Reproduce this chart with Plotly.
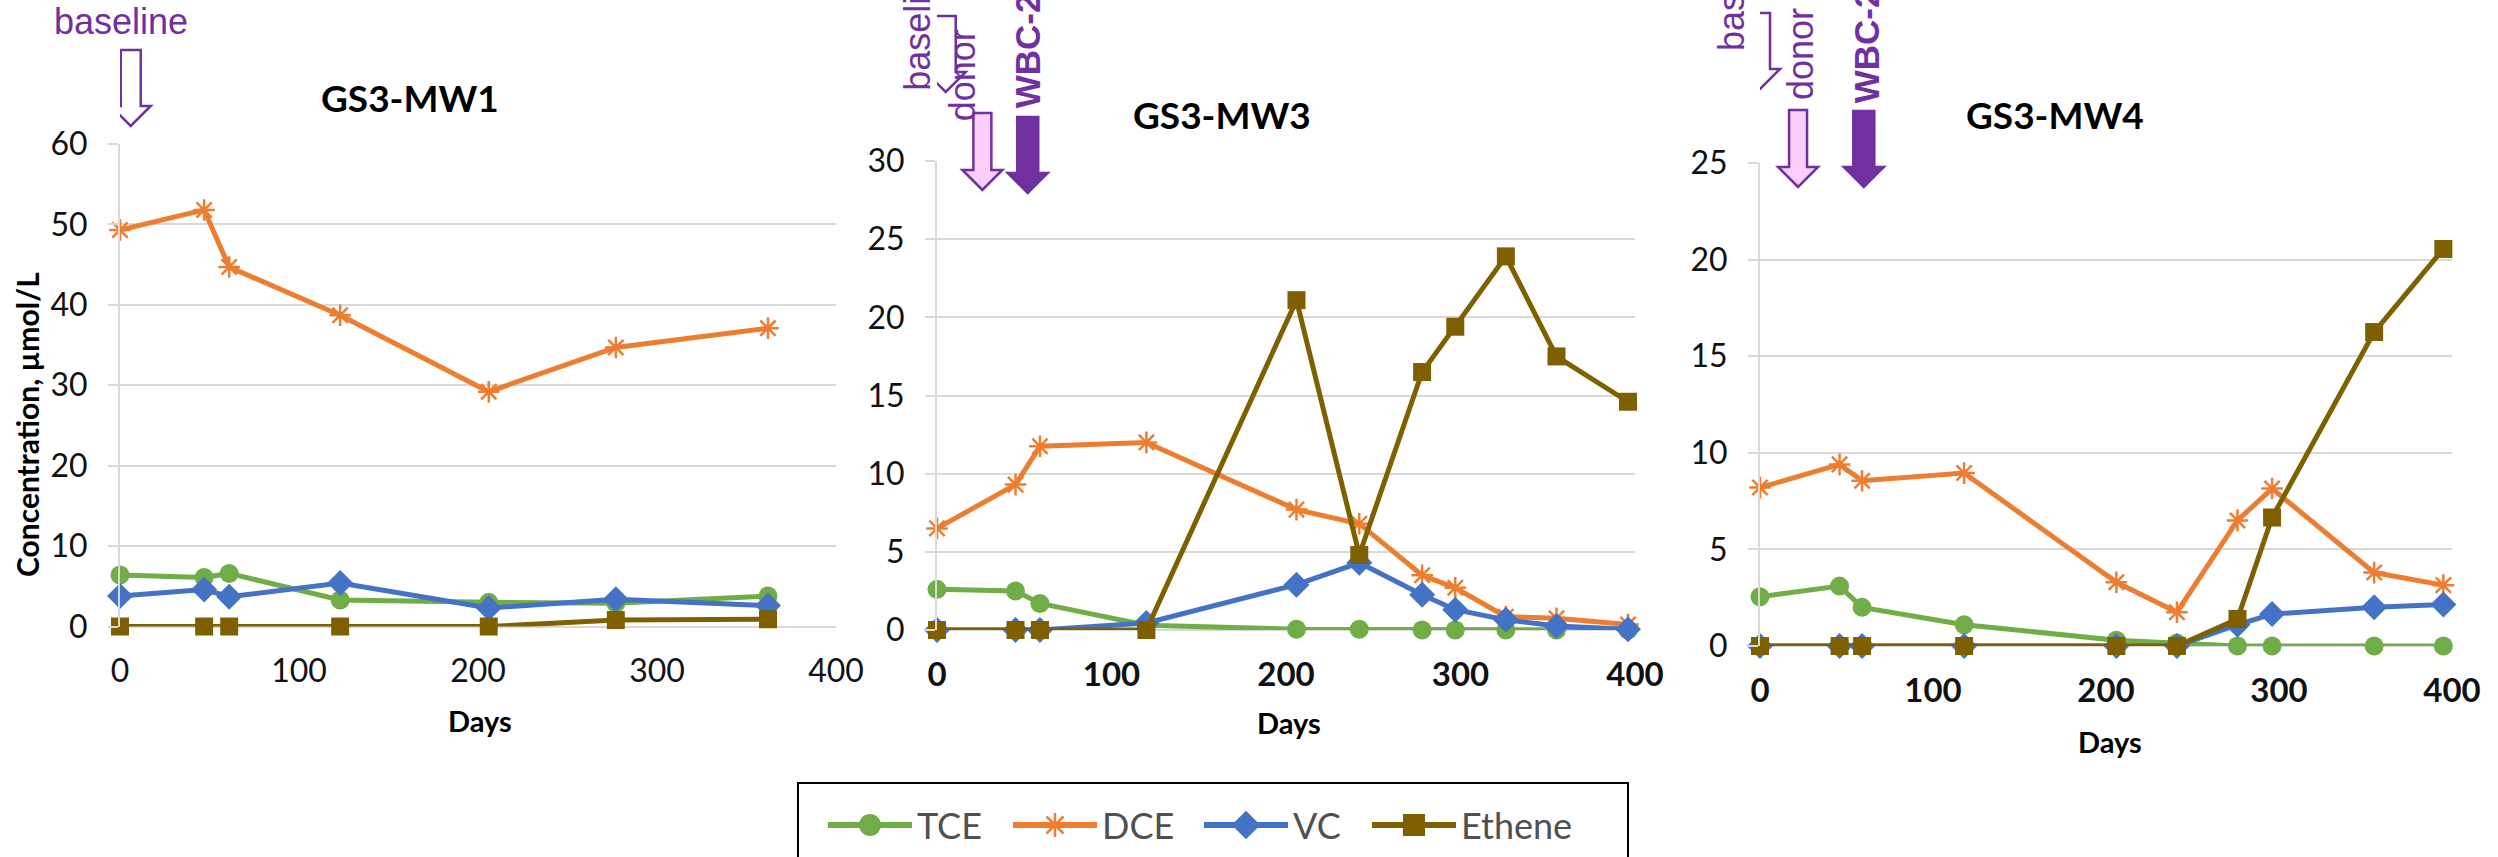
import plotly.graph_objects as go

FIG_W, FIG_H = 2498, 857

# ---- series definitions ----
series_names = ["TCE", "DCE", "VC", "Ethene"]
series_colors = ["#70AD47", "#ED7D31", "#4472C4", "#7F6000"]
series_symbols = ["circle", "asterisk-open", "diamond", "square"]
series_sizes = [19, 18, 20, 18]

# ---- GS3-MW1 (µmol/L) ----
mw1_days = [0, 47, 61, 123, 206, 277, 362]
mw1_tce = [6.4, 6.1, 6.6, 3.3, 3.0, 2.9, 3.8]
mw1_dce = [49.3, 51.8, 44.7, 38.7, 29.2, 34.7, 37.1]
mw1_vc = [3.8, 4.6, 3.7, 5.4, 2.3, 3.4, 2.6]
mw1_ethene = [0, 0, 0, 0, 0, 0.8, 0.9]

# ---- GS3-MW3 (µmol/L) ----
mw3_days = [0, 45, 59, 120, 206, 242, 278, 297, 326, 355, 396]
mw3_tce = [2.6, 2.5, 1.7, 0.3, 0.05, 0.05, 0, 0, 0, 0, 0]
mw3_dce = [6.5, 9.3, 11.75, 12.0, 7.7, 6.8, 3.5, 2.7, 0.85, 0.75, 0.35]
mw3_vc = [0, 0, 0, 0.45, 2.9, 4.3, 2.25, 1.3, 0.65, 0.25, 0.05]
mw3_ethene = [0, 0, 0, 0, 21.1, 4.8, 16.5, 19.4, 23.9, 17.5, 14.6]

# ---- GS3-MW4 (µmol/L) ----
mw4_days = [0, 46, 59, 118, 206, 241, 276, 296, 355, 395]
mw4_tce = [2.55, 3.1, 2.0, 1.1, 0.3, 0.15, 0, 0, 0, 0]
mw4_dce = [8.2, 9.4, 8.55, 8.95, 3.3, 1.75, 6.5, 8.15, 3.8, 3.15]
mw4_vc = [0, 0, 0, 0, 0, 0, 1.1, 1.65, 2.0, 2.15]
mw4_ethene = [0, 0, 0, 0, 0, 0, 1.4, 6.65, 16.25, 20.55]

# ---- axis ticks ----
x_ticks = [0, 100, 200, 300, 400]
mw1_y_ticks = [0, 10, 20, 30, 40, 50, 60]
mw3_y_ticks = [0, 5, 10, 15, 20, 25, 30]
mw4_y_ticks = [0, 5, 10, 15, 20, 25]

# ---- treatment events (day each arrow points at) ----
mw1_events = [("baseline", 6)]
mw3_events = [("baseline", 5), ("donor", 26), ("WBC-2", 52)]
mw4_events = [("baseline", 0), ("donor", 22), ("WBC-2", 60)]

PURPLE = "#7030A0"
PINK = "#FBCDFB"
GRID = "#D9D9D9"
TICK_FONT = "Lato"
NOTE_FONT = "Liberation Sans, Arial, sans-serif"


def px_x(p):
    return p / FIG_W


def px_y(p):
    return 1 - p / FIG_H


panels = [
    dict(title="GS3-MW1", days=mw1_days,
         values=[mw1_tce, mw1_dce, mw1_vc, mw1_ethene], yticks=mw1_y_ticks,
         box=(120, 836, 144, 626.5), title_xy=(410, 98), days_xy=(480, 720),
         bold_x=False, events=mw1_events),
    dict(title="GS3-MW3", days=mw3_days,
         values=[mw3_tce, mw3_dce, mw3_vc, mw3_ethene], yticks=mw3_y_ticks,
         box=(937, 1635, 161, 630), title_xy=(1222, 115), days_xy=(1289, 722),
         bold_x=True, events=mw3_events),
    dict(title="GS3-MW4", days=mw4_days,
         values=[mw4_tce, mw4_dce, mw4_vc, mw4_ethene], yticks=mw4_y_ticks,
         box=(1760, 2452, 163, 646), title_xy=(2055, 115), days_xy=(2110, 741),
         bold_x=True, events=mw4_events),
]

# arrow look per event type: (fill, shaft half width, head half width, head length, length)
arrow_styles = {
    "baseline": ("white", 10, 20, 20, 76),
    "donor": (PINK, 9, 20, 20, 77),
    "WBC-2": (PURPLE, 10.5, 20, 20, 76),
}
# arrow tip height (px from top) and label placement per panel
arrow_layout = [
    {"baseline": dict(tip=126, label="horizontal", dx=-10, label_y=22)},
    {"baseline": dict(tip=92, dx=-29, label_y=93),
     "donor": dict(tip=190, dx=-19, label_y=123),
     "WBC-2": dict(tip=193, dx=0, label_y=110)},
    {"baseline": dict(tip=89, dx=-29, label_y=53),
     "donor": dict(tip=187, dx=2, label_y=102),
     "WBC-2": dict(tip=187, dx=3, label_y=105)},
]

fig = go.Figure()
layout = dict(
    width=FIG_W, height=FIG_H, autosize=False,
    margin=dict(l=0, r=0, t=0, b=0, pad=0),
    paper_bgcolor="white", plot_bgcolor="white",
    showlegend=False,
)
shapes = []
annotations = []

for i, p in enumerate(panels):
    sfx = "" if i == 0 else str(i + 1)
    xref, yref = "x" + sfx, "y" + sfx
    left, right, top, bottom = p["box"]
    for name, color, sym, size, vals in zip(series_names, series_colors,
                                            series_symbols, series_sizes, p["values"]):
        fig.add_trace(go.Scatter(
            x=p["days"], y=vals, name=name, mode="lines+markers",
            line=dict(color=color, width=5),
            marker=dict(symbol=sym, size=size, color=color, opacity=1,
                        line=dict(color=color, width=2.5 if "open" in sym else 0)),
            xaxis=xref, yaxis=yref, cliponaxis=False, showlegend=False,
        ))
    layout["xaxis" + sfx] = dict(
        domain=[px_x(left), px_x(right)], range=[0, 400], tickvals=x_ticks,
        showgrid=False, zeroline=False, showline=False, ticks="",
        tickfont=dict(family=TICK_FONT, size=33 if p["bold_x"] else 32, color="#111111",
                      weight="bold" if p["bold_x"] else "normal"),
        ticklabelstandoff=22, anchor=yref, fixedrange=True, automargin=False,
    )
    layout["yaxis" + sfx] = dict(
        domain=[px_y(bottom), px_y(top)], range=[0, p["yticks"][-1]],
        tickvals=p["yticks"], showgrid=True, gridcolor=GRID, gridwidth=2,
        zeroline=True, zerolinecolor=GRID, zerolinewidth=2,
        showline=True, linecolor=GRID, linewidth=2,
        ticks="outside", ticklen=10, tickcolor=GRID, tickwidth=2,
        tickfont=dict(family=TICK_FONT, size=32, color="#111111"),
        ticklabelstandoff=14, anchor=xref, fixedrange=True, automargin=False,
    )
    tx, ty = p["title_xy"]
    annotations.append(dict(
        text="<b>%s</b>" % p["title"], x=px_x(tx), y=px_y(ty), xref="paper", yref="paper",
        xanchor="center", yanchor="middle", showarrow=False,
        font=dict(family=TICK_FONT, size=37, color="black"),
    ))
    dx_, dy_ = p["days_xy"]
    annotations.append(dict(
        text="<b>Days</b>", x=px_x(dx_), y=px_y(dy_), xref="paper", yref="paper",
        xanchor="center", yanchor="middle", showarrow=False,
        font=dict(family=TICK_FONT, size=29, color="black"),
    ))

    # treatment arrows + labels
    for label, day in p["events"]:
        fill, sw, hw, hl, length = arrow_styles[label]
        cfg = arrow_layout[i][label]
        path = (f"M {-sw},{length} L {sw},{length} L {sw},{hl} L {hw},{hl} "
                f"L 0,0 L {-hw},{hl} L {-sw},{hl} Z")
        shapes.append(dict(
            type="path", path=path, xref=xref, xsizemode="pixel", xanchor=day,
            yref="paper", ysizemode="pixel", yanchor=px_y(cfg["tip"]),
            fillcolor=fill, line=dict(color=PURPLE, width=2.5), layer="above",
        ))
        bold = label == "WBC-2"
        if cfg.get("label") == "horizontal":
            annotations.append(dict(
                text=label, x=day, xref=xref, xshift=cfg["dx"],
                y=px_y(cfg["label_y"]), yref="paper",
                xanchor="center", yanchor="middle", showarrow=False,
                font=dict(family=NOTE_FONT, size=36, color=PURPLE),
            ))
        else:
            annotations.append(dict(
                text="<b>%s</b>" % label if bold else label,
                x=day, xref=xref, xshift=cfg["dx"],
                y=px_y(cfg["label_y"]), yref="paper",
                xanchor="center", yanchor="bottom", textangle=-90, showarrow=False,
                font=dict(family=NOTE_FONT, size=35 if bold else 36, color=PURPLE),
            ))

# shared y-axis title
annotations.append(dict(
    text="<b>Concentration, µmol/L</b>", x=px_x(27), y=px_y(425),
    xref="paper", yref="paper", textangle=-90, showarrow=False,
    xanchor="center", yanchor="middle",
    font=dict(family=TICK_FONT, size=30, color="black"),
))

# ---- legend drawn on its own blank axis ----
LEG_L, LEG_R, LEG_T = 798, 1628, 783
legend_starts = [30, 215, 406, 574]
legend_line_len = 84
legend_row_y = FIG_H - 825
layout["xaxis4"] = dict(domain=[px_x(LEG_L), px_x(LEG_R)], range=[0, LEG_R - LEG_L],
                        visible=False, fixedrange=True, anchor="y4", automargin=False)
layout["yaxis4"] = dict(domain=[0, px_y(LEG_T)], range=[0, FIG_H - LEG_T],
                        visible=False, fixedrange=True, anchor="x4", automargin=False)
legend_marker_sizes = [22, 20, 22, 22]
for name, color, sym, start, msize in zip(series_names, series_colors, series_symbols,
                                          legend_starts, legend_marker_sizes):
    fig.add_trace(go.Scatter(
        x=[start, start + legend_line_len / 2, start + legend_line_len],
        y=[legend_row_y] * 3, mode="lines+markers",
        line=dict(color=color, width=6),
        marker=dict(symbol=sym, size=[0, msize, 0], color=color, opacity=1,
                    line=dict(color=color, width=2.5 if "open" in sym else 0)),
        xaxis="x4", yaxis="y4", cliponaxis=False, showlegend=False, hoverinfo="skip",
    ))
    annotations.append(dict(
        text=name, x=start + legend_line_len + 3, y=legend_row_y, xref="x4", yref="y4",
        xanchor="left", yanchor="middle", showarrow=False,
        font=dict(family=TICK_FONT, size=36, color="#505050"),
    ))
shapes.append(dict(
    type="rect", xref="paper", yref="paper",
    x0=px_x(LEG_L), x1=px_x(LEG_R), y0=-0.2, y1=px_y(LEG_T),
    line=dict(color="black", width=2), fillcolor="rgba(0,0,0,0)", layer="below",
))

layout["shapes"] = shapes
layout["annotations"] = annotations
fig.update_layout(**layout)
fig.write_html("out.html")
